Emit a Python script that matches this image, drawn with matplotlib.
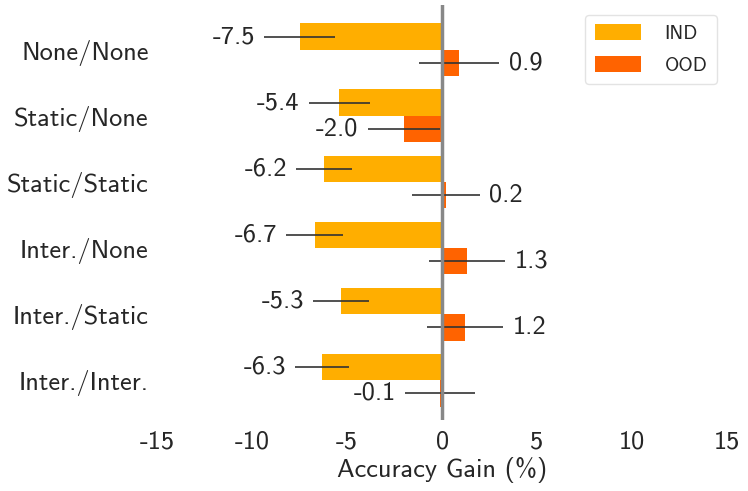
import numpy as np
import matplotlib
matplotlib.use("Agg")
import matplotlib.pyplot as plt

categories = ['None/None', 'Static/None', 'Static/Static', 'Inter./None', 'Inter./Static', 'Inter./Inter.']
ind_gain = [-7.5, -5.4, -6.2, -6.7, -5.3, -6.3]
ood_gain = [0.9, -2.0, 0.2, 1.3, 1.2, -0.1]
ind_err = [1.85, 1.62, 1.47, 1.5, 1.47, 1.42]
ood_err = [2.1, 1.9, 1.78, 2.0, 2.0, 1.83]

plt.rcParams['font.family'] = ['cmss10', 'DejaVu Sans']
plt.rcParams['axes.unicode_minus'] = False
plt.rcParams['text.color'] = '#262626'
plt.rcParams['xtick.color'] = '#262626'
plt.rcParams['ytick.color'] = '#262626'
plt.rcParams['axes.labelcolor'] = '#262626'

ind_color = '#FFAE00'
ood_color = '#FF6300'

fig = plt.figure(figsize=(7.48, 4.91), dpi=100)
ax = fig.add_axes([0.21, 0.145, 0.762, 0.845])

y = np.arange(len(categories))
h = 0.4
ax.barh(y - h / 2, ind_gain, height=h, color=ind_color, label='IND',
        xerr=ind_err, error_kw=dict(ecolor='#333333', elinewidth=1.2, capsize=0))
ax.barh(y + h / 2, ood_gain, height=h, color=ood_color, label='OOD',
        xerr=ood_err, error_kw=dict(ecolor='#333333', elinewidth=1.2, capsize=0))

ax.axvline(0, color='#888888', lw=2.5, zorder=3)

for vals, errs, off in [(ind_gain, ind_err, -h / 2), (ood_gain, ood_err, h / 2)]:
    for i, (v, e) in enumerate(zip(vals, errs)):
        if v < 0:
            ax.text(v - e - 0.5, i + off, f'{v:.1f}', ha='right', va='center', fontsize=19)
        else:
            ax.text(v + e + 0.5, i + off, f'{v:.1f}', ha='left', va='center', fontsize=19)

ax.set_xlim(-15, 15)
ax.set_ylim(len(categories) - 0.4, -0.68)
ax.set_xticks([-15, -10, -5, 0, 5, 10, 15])
ax.set_yticks(y)
ax.set_yticklabels(categories)
ax.tick_params(axis='both', labelsize=19, length=0)
ax.tick_params(axis='x', pad=8)
ax.tick_params(axis='y', pad=6)
ax.set_xlabel('Accuracy Gain (%)', fontsize=19, labelpad=2)
for s in ax.spines.values():
    s.set_visible(False)

leg = ax.legend(loc='upper right', fontsize=14, frameon=True, borderpad=0.5,
                labelspacing=0.65, handlelength=2.4, handleheight=0.9,
                handletextpad=1.2, borderaxespad=0.5)
leg.get_frame().set_edgecolor('#dddddd')

fig.savefig('out.png', dpi=100)
